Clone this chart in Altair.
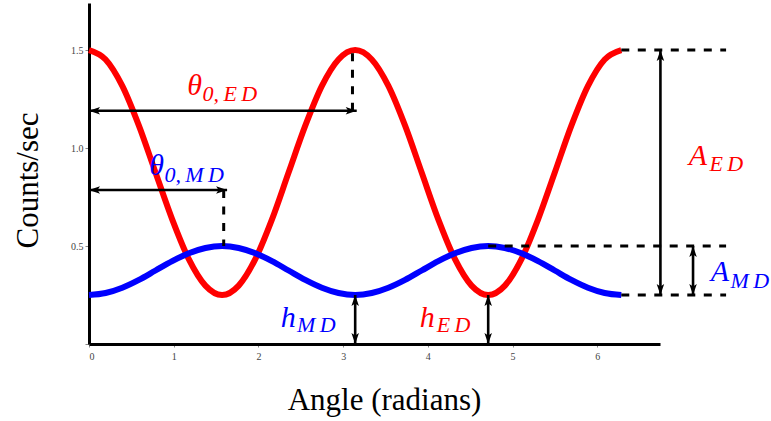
import altair as alt
import pandas as pd

# Sampled angles (radians) over one full turn
angle = [0.000, 0.196, 0.393, 0.589, 0.785, 0.982, 1.178, 1.374, 1.571,
         1.767, 1.963, 2.160, 2.356, 2.553, 2.749, 2.945, 3.142, 3.338,
         3.534, 3.731, 3.927, 4.123, 4.320, 4.516, 4.712, 4.909, 5.105,
         5.301, 5.498, 5.694, 5.890, 6.087, 6.283]

# Counts/sec for the ED detector (red)
counts_ed = [1.500, 1.452, 1.317, 1.114, 0.875, 0.636, 0.433, 0.298, 0.250,
             0.298, 0.433, 0.636, 0.875, 1.114, 1.317, 1.452, 1.500, 1.452,
             1.317, 1.114, 0.875, 0.636, 0.433, 0.298, 0.250, 0.298, 0.433,
             0.636, 0.875, 1.114, 1.317, 1.452, 1.500]

# Counts/sec for the MD detector (blue)
counts_md = [0.250, 0.260, 0.287, 0.327, 0.375, 0.423, 0.463, 0.490, 0.500,
             0.490, 0.463, 0.423, 0.375, 0.327, 0.287, 0.260, 0.250, 0.260,
             0.287, 0.327, 0.375, 0.423, 0.463, 0.490, 0.500, 0.490, 0.463,
             0.423, 0.375, 0.327, 0.287, 0.260, 0.250]

x_ticks = [0, 1, 2, 3, 4, 5, 6]
y_ticks = [0, 0.5, 1.0, 1.5]

# Double-headed dimension arrows: theta0_ED, theta0_MD, h_MD, h_ED, A_ED, A_MD
arrow_x1 = [0.0, 0.0, 3.142, 4.712, 6.745, 7.13]
arrow_y1 = [1.19, 0.786, 0.0, 0.0, 0.25, 0.25]
arrow_x2 = [3.16, 1.63, 3.142, 4.712, 6.745, 7.13]
arrow_y2 = [1.19, 0.786, 0.25, 0.25, 1.5, 0.5]

# Dashed guide lines
vdash_x = [3.11, 1.59]
vdash_y1 = [1.19, 0.786]
vdash_y2 = [1.5, 0.5]
hdash_x1 = [6.283, 4.712, 6.283]
hdash_x2 = [7.52, 7.52, 7.52]
hdash_y = [1.5, 0.5, 0.25]

# Symbol labels: main glyph and its subscript (thin spaces widen the italic subscripts)
label_main = ["θ", "θ", "h", "h", "A", "A"]
label_sub = ["0,\u2009E\u2009D", "0,\u2009M\u2009D", "M\u2009D", "E\u2009D", "E\u2009D", "M\u2009D"]
label_color = ["#ff0000", "#0000ff", "#0000ff", "#ff0000", "#ff0000", "#0000ff"]
label_x = [1.160, 0.712, 2.264, 3.903, 7.080, 7.340]
label_y = [1.270, 0.862, 0.087, 0.087, 0.913, 0.321]
sub_x = [1.340, 0.890, 2.455, 4.104, 7.323, 7.571]
sub_y = [1.240, 0.827, 0.063, 0.063, 0.883, 0.288]

SERIF = "Liberation Serif"
ARROW_HEAD = "M0,0L-0.75,2.2L0,1.7L0.75,2.2Z"

xs = alt.Scale(domain=[0, 6.74], nice=False, zero=False)
ys = alt.Scale(domain=[0, 1.74], nice=False, zero=False)

curve_ed = pd.DataFrame({"angle": angle, "counts": counts_ed})
curve_md = pd.DataFrame({"angle": angle, "counts": counts_md})

x_axis = alt.Axis(values=x_ticks, format="d", grid=False, domainColor="black",
                  domainWidth=3, tickColor="#888", tickSize=3, tickWidth=1,
                  labelFont=SERIF, labelFontSize=10, labelColor="#444",
                  labelPadding=4, title="Angle (radians)", titleFont=SERIF,
                  titleFontSize=31, titleFontWeight="normal", titleColor="black",
                  titleX=295, titleY=65, titleBaseline="alphabetic",
                  titleAlign="center")
y_axis = alt.Axis(values=y_ticks, grid=False, domainColor="black", domainWidth=3,
                  tickColor="#888", tickSize=4, tickWidth=1, labelFont=SERIF,
                  labelFontSize=10, labelColor="#444", labelPadding=2,
                  labelExpr="datum.value == 0 ? '' : format(datum.value, '.1f')",
                  title="Counts/sec", titleFont=SERIF, titleFontSize=31,
                  titleFontWeight="normal", titleColor="black",
                  titleX=-52, titleY=177, titleBaseline="alphabetic",
                  titleAlign="center", titleAngle=270)

red = alt.Chart(curve_ed).mark_line(color="#ff0000", strokeWidth=6,
                                    interpolate="monotone", strokeCap="butt").encode(
    x=alt.X("angle:Q", scale=xs, axis=x_axis),
    y=alt.Y("counts:Q", scale=ys, axis=y_axis),
)
blue = alt.Chart(curve_md).mark_line(color="#0000ff", strokeWidth=6,
                                     interpolate="monotone", strokeCap="butt").encode(
    x=alt.X("angle:Q", scale=xs),
    y=alt.Y("counts:Q", scale=ys),
)

vd = pd.DataFrame({"x": vdash_x, "y": vdash_y1, "y2": vdash_y2})
hd = pd.DataFrame({"x": hdash_x1, "x2": hdash_x2, "y": hdash_y})
dash_style = dict(color="black", strokeWidth=3, strokeDash=[8, 8.5])
vdash = alt.Chart(vd).mark_rule(**dash_style).encode(
    x=alt.X("x:Q", scale=xs), y=alt.Y("y:Q", scale=ys), y2="y2:Q")
hdash = alt.Chart(hd).mark_rule(**dash_style).encode(
    x=alt.X("x:Q", scale=xs), x2="x2:Q", y=alt.Y("y:Q", scale=ys))

arrows = pd.DataFrame({"x": arrow_x1, "y": arrow_y1, "x2": arrow_x2, "y2": arrow_y2})
shafts = alt.Chart(arrows).mark_rule(color="black", strokeWidth=2.6).encode(
    x=alt.X("x:Q", scale=xs), x2="x2:Q", y=alt.Y("y:Q", scale=ys), y2="y2:Q")

heads = []
for x1, y1, x2, y2 in zip(arrow_x1, arrow_y1, arrow_x2, arrow_y2):
    if y1 == y2:
        heads += [{"x": x1, "y": y1, "rot": 270}, {"x": x2, "y": y2, "rot": 90}]
    else:
        heads += [{"x": x1, "y": y1, "rot": 180}, {"x": x2, "y": y2, "rot": 0}]
tips = alt.Chart(pd.DataFrame(heads)).mark_point(
    shape=ARROW_HEAD, filled=True, color="black", size=100, opacity=1, strokeWidth=0
).encode(x=alt.X("x:Q", scale=xs), y=alt.Y("y:Q", scale=ys),
         angle=alt.Angle("rot:Q", scale=None))

labels = pd.DataFrame({"main": label_main, "sub": label_sub, "color": label_color,
                       "x": label_x, "y": label_y, "sx": sub_x, "sy": sub_y})
main_text = alt.Chart(labels).mark_text(
    align="left", baseline="alphabetic", font=SERIF, fontStyle="italic", fontSize=30
).encode(x=alt.X("x:Q", scale=xs), y=alt.Y("y:Q", scale=ys), text="main:N",
         color=alt.Color("color:N", scale=None))
sub_text = alt.Chart(labels).mark_text(
    align="left", baseline="alphabetic", font=SERIF, fontStyle="italic", fontSize=22
).encode(x=alt.X("sx:Q", scale=xs), y=alt.Y("sy:Q", scale=ys), text="sub:N",
         color=alt.Color("color:N", scale=None))

chart = alt.layer(red, blue, vdash, hdash, shafts, tips, main_text, sub_text).properties(
    width=571, height=341,
    background="white",
    autosize=alt.AutoSizeParams(type="none"),
    padding={"left": 89, "top": 3, "right": 111, "bottom": 77},
).configure_view(stroke=None)

chart.save("out.html", embed_options={"renderer": "svg", "actions": False})
